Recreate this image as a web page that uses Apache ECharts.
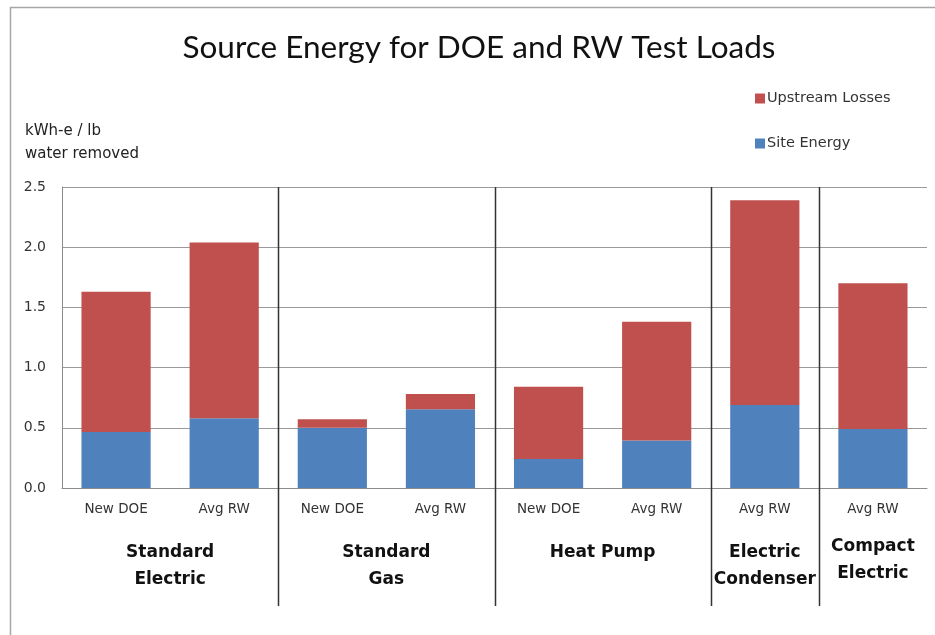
<!DOCTYPE html>
<html>
<head>
<meta charset="utf-8">
<script src="https://cdn.jsdelivr.net/npm/echarts@6/dist/echarts.min.js"></script>
<style>
html,body{margin:0;padding:0;background:#fff;}
#chart{width:935px;height:635px;}
</style>
</head>
<body>
<div id="chart"></div>
<script>
// Data
var categories = ['New DOE', 'Avg RW', 'New DOE', 'Avg RW', 'New DOE', 'Avg RW', 'Avg RW', 'Avg RW'];
var siteEnergy = [0.465, 0.58, 0.50, 0.655, 0.24, 0.395, 0.69, 0.49];
var upstreamLosses = [1.165, 1.46, 0.07, 0.125, 0.60, 0.985, 1.70, 1.21];
var yTicks = [0, 0.5, 1.0, 1.5, 2.0, 2.5];
var groupNames = ['Standard\nElectric', 'Standard\nGas', 'Heat Pump', 'Electric\nCondenser', 'Compact\nElectric'];
var groupFirst = [0, 2, 4, 6, 7];
var groupLast = [1, 3, 5, 6, 7];
var separatorIdx = [2, 4, 6, 7];

var TITLE_FONT = 'Lato, "Open Sans", sans-serif';
var FONT = '"DejaVu Sans", Verdana, sans-serif';
var chart = echarts.init(document.getElementById('chart'), null, {renderer: 'canvas'});

var option = {
  backgroundColor: '#ffffff',
  animation: false,
  title: {
    text: 'Source Energy for DOE and RW Test Loads',
    left: 474,
    textAlign: 'center',
    top: 27,
    textStyle: {fontFamily: TITLE_FONT, fontSize: 31.5, fontWeight: 'normal', color: '#111'}
  },
  legend: {
    orient: 'vertical',
    left: 750,
    top: 86,
    itemWidth: 10,
    itemHeight: 10,
    itemGap: 30,
    icon: 'rect',
    data: ['Upstream Losses', 'Site Energy'],
    textStyle: {fontFamily: FONT, fontSize: 14.5, color: '#333', padding: [0, 0, 0, -3]}
  },
  grid: {left: 62, right: 8, top: 187, bottom: 147, containLabel: false},
  xAxis: {
    type: 'category',
    data: categories,
    boundaryGap: true,
    axisLine: {show: true, lineStyle: {color: '#8c8c8c', width: 1}},
    axisTick: {show: false},
    splitLine: {show: false},
    axisLabel: {
      interval: 0,
      margin: 14,
      fontFamily: FONT,
      fontSize: 13.5,
      color: '#333'
    }
  },
  yAxis: {
    type: 'value',
    min: yTicks[0],
    max: yTicks[yTicks.length - 1],
    interval: 0.5,
    axisLine: {show: true, lineStyle: {color: '#8c8c8c', width: 1}},
    axisTick: {show: false},
    splitLine: {show: true, lineStyle: {color: '#9a9a9a', width: 1}},
    axisLabel: {
      margin: 16,
      fontFamily: FONT,
      fontSize: 14,
      color: '#333',
      formatter: function (v) { return v.toFixed(1); }
    }
  },
  series: [
    {
      name: 'Site Energy',
      type: 'bar',
      stack: 'total',
      barWidth: '64%',
      itemStyle: {color: '#4F81BD'},
      data: siteEnergy
    },
    {
      name: 'Upstream Losses',
      type: 'bar',
      stack: 'total',
      barWidth: '64%',
      itemStyle: {color: '#C0504D'},
      data: upstreamLosses
    }
  ],
  graphic: [
    {
      type: 'rect',
      shape: {x: 10.5, y: 7.5, width: 940, height: 650},
      style: {fill: 'none', stroke: '#a6a6a6', lineWidth: 1.5},
      silent: true
    },
    {
      type: 'text',
      left: 25,
      top: 120,
      style: {
        text: 'kWh-e / lb\nwater removed',
        font: '15px ' + FONT,
        fill: '#222',
        lineHeight: 23
      }
    }
  ]
};
chart.setOption(option);

var extra = [];
// Group separators, placed midway between category centres from the axis scale
var yTop = chart.convertToPixel({yAxisIndex: 0}, yTicks[yTicks.length - 1]);
for (var s = 0; s < separatorIdx.length; s++) {
  var a = chart.convertToPixel({xAxisIndex: 0}, separatorIdx[s] - 1);
  var b = chart.convertToPixel({xAxisIndex: 0}, separatorIdx[s]);
  var sx = Math.round((a + b) / 2) + 0.5;
  extra.push({
    type: 'line',
    shape: {x1: sx, y1: yTop, x2: sx, y2: 606},
    style: {stroke: '#333', lineWidth: 1.5},
    silent: true,
    z: 10
  });
}
// Group labels centered under their categories
for (var g = 0; g < groupNames.length; g++) {
  var x1 = chart.convertToPixel({xAxisIndex: 0}, groupFirst[g]);
  var x2 = chart.convertToPixel({xAxisIndex: 0}, groupLast[g]);
  var cx = (x1 + x2) / 2;
  var topY = groupNames[g] === 'Compact\nElectric' ? 533 : 539;
  extra.push({
    type: 'text',
    x: cx,
    y: topY,
    style: {
      text: groupNames[g],
      font: 'bold 17px ' + FONT,
      fill: '#111',
      textAlign: 'center',
      lineHeight: 27
    }
  });
}
chart.setOption({graphic: option.graphic.concat(extra)});
</script>
</body>
</html>
